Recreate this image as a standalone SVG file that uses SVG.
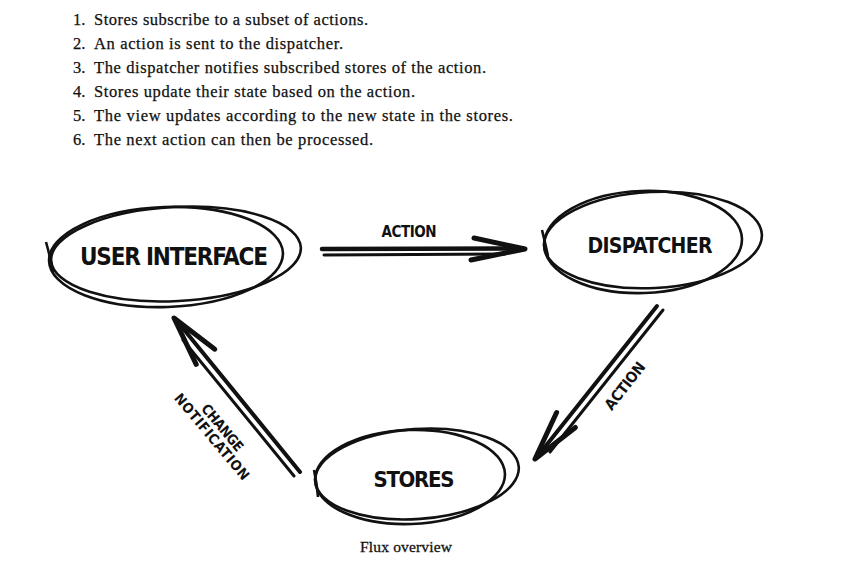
<svg xmlns="http://www.w3.org/2000/svg" width="859" height="562" viewBox="0 0 859 562">
<style>
.list{font-family:"Liberation Serif","Times New Roman",serif;font-size:16.5px;fill:#111;stroke:#111;stroke-width:0.25}
.cap{font-family:"Liberation Serif","Times New Roman",serif;font-size:15.5px;fill:#111;stroke:#111;stroke-width:0.3}
.hand{font-family:"DejaVu Sans Condensed","DejaVu Sans","Liberation Sans",sans-serif;font-weight:bold;fill:#111;text-anchor:middle}
.ring{fill:none;stroke:#111;stroke-width:2.6}
.shaft{fill:none;stroke:#111;stroke-linecap:round}
.head{fill:none;stroke:#111;stroke-width:5;stroke-linecap:round;stroke-linejoin:round}
</style>
<rect width="859" height="562" fill="#fff"/>
<g id="steps">
<text class="list" x="73" y="25">1.</text><text class="list" x="94" y="25" textLength="274">Stores subscribe to a subset of actions.</text>
<text class="list" x="73" y="49">2.</text><text class="list" x="94" y="49" textLength="249">An action is sent to the dispatcher.</text>
<text class="list" x="73" y="73">3.</text><text class="list" x="94" y="73" textLength="392">The dispatcher notifies subscribed stores of the action.</text>
<text class="list" x="73" y="97">4.</text><text class="list" x="94" y="97" textLength="321">Stores update their state based on the action.</text>
<text class="list" x="73" y="121">5.</text><text class="list" x="94" y="121" textLength="419">The view updates according to the new state in the stores.</text>
<text class="list" x="73" y="145">6.</text><text class="list" x="94" y="145" textLength="279">The next action can then be processed.</text>
</g>
<g id="connectors">
<g id="ui-to-dispatcher">
<path class="shaft" stroke-width="4.5" d="M322 249 L523 248.5"/>
<path class="shaft" stroke-width="3" d="M324 255 L505 254"/>
<path class="head" d="M474 238 L525 249 L471 260"/>
<text class="hand" x="409" y="237" font-size="15" textLength="55">ACTION</text>
</g>
<g id="dispatcher-to-stores">
<path class="shaft" stroke-width="4" d="M657 306 L537 457"/>
<path class="shaft" stroke-width="3" d="M663 310 L550 452"/>
<path class="head" d="M556.6 412.5 L535 459 L575.4 427.5"/>
<text class="hand" transform="translate(625,386) rotate(-52)" y="5" font-size="15" textLength="56">ACTION</text>
</g>
<g id="stores-to-ui">
<path class="shaft" stroke-width="4" d="M300 472 L177 321"/>
<path class="shaft" stroke-width="3" d="M294 476 L183 340"/>
<path class="head" d="M196.2 364.3 L174 318 L214.8 349.2"/>
<text class="hand" transform="translate(215,434) rotate(50)" y="-5" font-size="14" textLength="57">CHANGE</text>
<text class="hand" transform="translate(215,434) rotate(50)" y="9" font-size="14" textLength="108">NOTIFICATION</text>
</g>
</g>
<g id="user-interface">
<ellipse class="ring" cx="166" cy="257" rx="117" ry="50" transform="rotate(-2 166 257)"/>
<ellipse class="ring" cx="176" cy="254" rx="125" ry="47" transform="rotate(-3 176 254)"/>
<path class="ring" d="M46 242 Q50 256 53 272"/>
<text class="hand" x="174" y="265" font-size="24" textLength="188">USER INTERFACE</text>
</g>
<g id="dispatcher">
<ellipse class="ring" cx="643" cy="242" rx="99" ry="51" transform="rotate(-2 643 242)"/>
<ellipse class="ring" cx="653" cy="240" rx="109" ry="48" transform="rotate(-3 653 240)"/>
<path class="ring" d="M542 230 Q545 242 548 256"/>
<text class="hand" x="650" y="253" font-size="21" textLength="125">DISPATCHER</text>
</g>
<g id="stores">
<ellipse class="ring" cx="410" cy="477" rx="95" ry="47" transform="rotate(-2 410 477)"/>
<ellipse class="ring" cx="417" cy="474" rx="102" ry="45" transform="rotate(-4 417 474)"/>
<path class="ring" d="M314 470 Q317 484 318 497"/>
<text class="hand" x="414" y="487" font-size="22" textLength="81">STORES</text>
</g>
<text id="caption" class="cap" x="406" y="552" text-anchor="middle" textLength="92">Flux overview</text>
</svg>
